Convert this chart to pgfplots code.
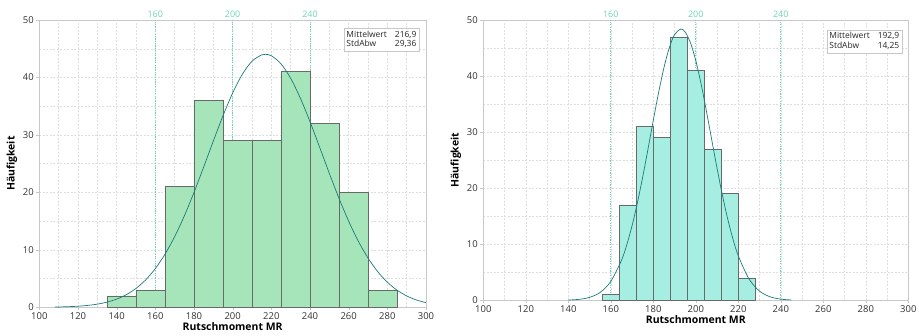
\documentclass[border=0pt]{standalone}
\usepackage{fontspec}
\setmainfont{Open Sans}
\usepackage{pgfplots}
\pgfplotsset{compat=1.18}
\definecolor{barL}{RGB}{166,228,186}
\definecolor{barR}{RGB}{166,238,226}
\definecolor{barEdge}{RGB}{105,105,105}
\definecolor{curvec}{RGB}{28,122,124}
\definecolor{refl}{RGB}{110,212,182}
\definecolor{gridc}{RGB}{222,222,222}
\definecolor{framec}{RGB}{200,200,200}
\pgfplotsset{hist/.style={
  scale only axis, anchor=south west,
  xmin=100,xmax=300,ymin=0,ymax=50,
  xtick={100,120,...,300}, minor xtick={110,130,...,290},
  ytick={0,10,...,50}, minor ytick={5,15,...,45},
  grid=both,
  major grid style={gridc, dash pattern=on 2pt off 1.5pt},
  minor grid style={gridc, dash pattern=on 2pt off 1.5pt},
  axis line style={framec, line width=0.8pt},
  tick pos=left, tick align=outside,
  major tick length=3pt, minor tick length=0pt,
  tick style={framec},
  /pgf/number format/assume math mode=true,
  ticklabel style={font=\fontsize{9.5}{10}\selectfont, text=black!80},
  xticklabel style={yshift=1pt},
  yticklabel style={xshift=1pt},
  xlabel={Rutschmoment MR}, ylabel={Häufigkeit},
  label style={font=\fontsize{10.5}{12}\selectfont\bfseries},
  xlabel style={yshift=4pt},
  ylabel style={yshift=-1pt},
  clip mode=individual,
}}
\tikzset{reflab/.style={anchor=south, text=refl, font=\fontsize{9}{10}\selectfont, inner sep=1pt, yshift=1pt},
  refline/.style={draw=refl, dash pattern=on 1.2pt off 1.2pt, line width=0.7pt},
  statbox/.style={anchor=north east, draw=framec, fill=white, inner sep=2.5pt, text=black!85, font=\fontsize{8.5}{9}\selectfont}}
\begin{document}
\begin{tikzpicture}
\path[use as bounding box] (0,0) rectangle (919bp,336bp);
% left panel
\begin{axis}[hist, at={(39.3bp,28.7bp)}, width=386.7bp, height=287.3bp]
\addplot[refline] coordinates {(160,0)(160,50)};
\addplot[refline] coordinates {(200,0)(200,50)};
\addplot[refline] coordinates {(240,0)(240,50)};
\addplot[ybar interval, fill=barL, draw=barEdge, line width=0.6pt] coordinates {
(135,2)(150,3)(165,21)(180,36)(195,29)(210,29)(225,41)(240,32)(255,20)(270,3)(285,3)};
\addplot[curvec, smooth, line width=0.7pt] coordinates {
(108,0.045)(110,0.058)(115,0.107)(120,0.190)(125,0.328)(130,0.551)(135,0.900)(140,1.425)
(145,2.195)(150,3.283)(155,4.770)(160,6.731)(165,9.229)(170,12.291)(175,15.901)(180,19.985)
(185,24.398)(190,28.935)(195,33.333)(200,37.304)(205,40.553)(210,42.826)(215,43.933)(216.9,44.025)
(220,43.780)(225,42.381)(230,39.854)(235,36.406)(240,32.306)(245,27.848)(250,23.319)(255,18.968)
(260,14.988)(265,11.505)(270,8.580)(275,6.214)(280,4.372)(285,2.989)(290,1.984)(295,1.280)(300,0.802)};
\node[reflab] at (axis cs:160,50) {160};
\node[reflab] at (axis cs:200,50) {200};
\node[reflab] at (axis cs:240,50) {240};
\node[statbox] at (rel axis cs:0.982,0.972) {\begin{tabular}{@{}l@{\hspace{8pt}}r@{}}Mittelwert & 216,9\\ StdAbw & 29,36\end{tabular}};
\end{axis}
% right panel
\begin{axis}[hist, at={(483.3bp,35.7bp)}, width=425bp, height=280.3bp]
\addplot[refline] coordinates {(160,0)(160,50)};
\addplot[refline] coordinates {(200,0)(200,50)};
\addplot[refline] coordinates {(240,0)(240,50)};
\addplot[ybar interval, fill=barR, draw=barEdge, line width=0.6pt] coordinates {
(156,1)(164,17)(172,31)(180,29)(188,47)(196,41)(204,27)(212,19)(220,4)(228,4)};
\addplot[curvec, smooth, line width=0.7pt] coordinates {
(140,0.049)(145,0.170)(150,0.521)(155,1.408)(160,3.367)(165,7.116)(167.5,9.880)(170,13.300)
(172.5,17.362)(175,21.979)(177.5,26.979)(180,32.113)(182.5,37.066)(185,41.486)(187.5,45.025)
(190,47.385)(192.9,48.377)(195,47.855)(197.5,45.921)(200,42.730)(202.5,38.556)(205,33.735)
(207.5,28.622)(210,23.548)(212.5,18.786)(215,14.533)(217.5,10.902)(220,7.930)(225,3.827)
(230,1.632)(235,0.616)(240,0.205)(245,0.061)};
\node[reflab] at (axis cs:160,50) {160};
\node[reflab] at (axis cs:200,50) {200};
\node[reflab] at (axis cs:240,50) {240};
\node[statbox] at (rel axis cs:0.985,0.965) {\begin{tabular}{@{}l@{\hspace{8pt}}r@{}}Mittelwert & 192,9\\ StdAbw & 14,25\end{tabular}};
\end{axis}
\end{tikzpicture}
\end{document}
